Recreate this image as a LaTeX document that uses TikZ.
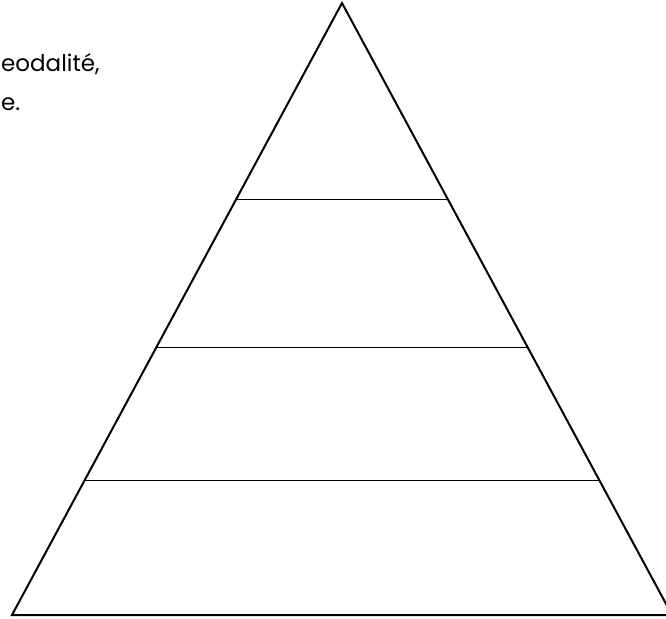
\documentclass[tikz,border=0pt]{standalone}
\usepackage{fontspec}
\setmainfont{Poppins}
\usetikzlibrary{calc}

\begin{document}
\begin{tikzpicture}[x=1pt,y=1pt,
  side/.style={draw=black,line width=2pt,line join=miter},
  level/.style={draw=black,line width=1pt},
  caption/.style={font=\fontsize{23}{28}\selectfont,anchor=base west,inner sep=0pt}]
\useasboundingbox (0,0) rectangle (666,-618);
% pyramid outline
\coordinate (apex) at (342,-3);
\coordinate (bl) at (12,-615);
\coordinate (br) at (672,-615);
\draw[side] (bl) -- (apex) -- (br) -- cycle;
% levels
\foreach \t/\n in {0.3203/a,0.5637/b,0.781/c}{
  \coordinate (l\n) at ($(apex)!\t!(bl)$);
  \coordinate (r\n) at ($(apex)!\t!(br)$);
  \draw[level] (l\n) -- (r\n);
}
% text at the left edge
\node[caption] (line1) at (1,-71) {eodalité,};
\node[caption] (line2) at (1,-110) {e.};
\end{tikzpicture}
\end{document}
